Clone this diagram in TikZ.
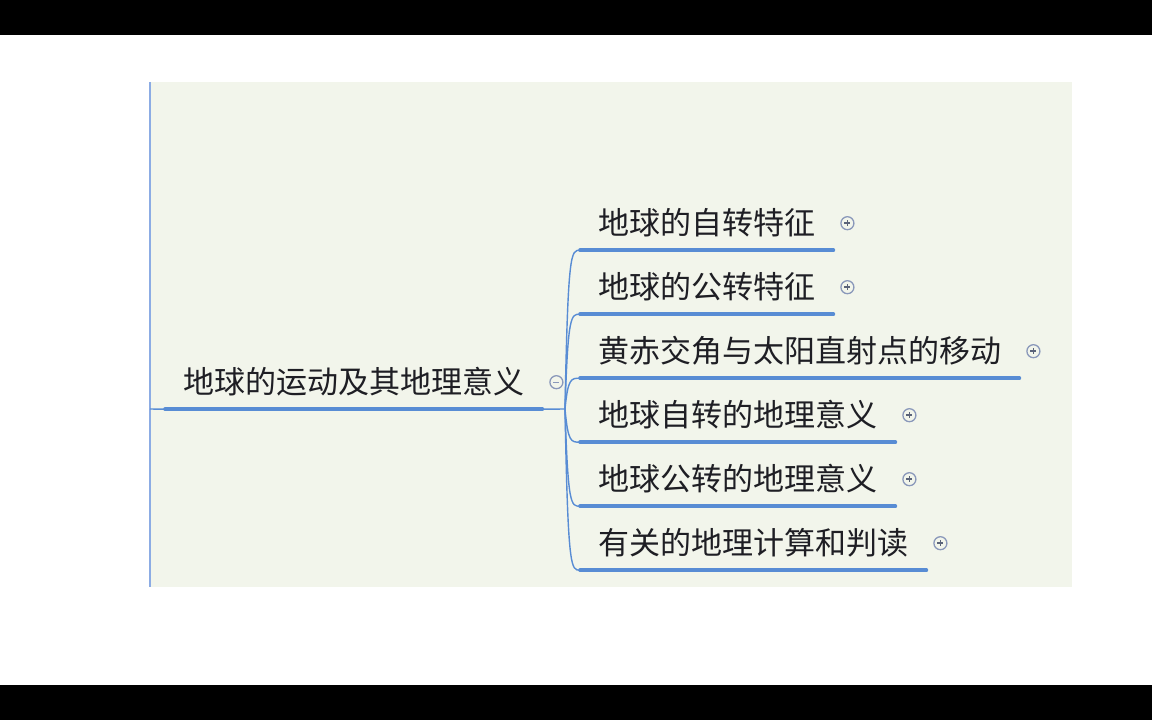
\documentclass[tikz,border=0pt]{standalone}
\usepackage{fontspec}
\newfontfamily\cjk{Noto Sans CJK SC}
\usetikzlibrary{calc}
\definecolor{panel}{RGB}{242,245,235}
\definecolor{branch}{RGB}{88,140,212}
\definecolor{spine}{RGB}{140,172,228}
\definecolor{knob}{RGB}{138,152,186}
\definecolor{ink}{RGB}{30,30,36}

\begin{document}
\begin{tikzpicture}[x=1pt,y=-1pt,
	topic/.style={anchor=base west, inner xsep=18pt, inner ysep=0pt, text depth=16pt, text=ink, font=\cjk\fontsize{31}{36}\selectfont},
	underline/.style={branch, line width=3.6pt, line cap=round},
	link/.style={branch, line width=1.4pt},
	fold/.style={circle, draw=knob, line width=1.3pt, minimum size=13pt, inner sep=0pt}]
	\useasboundingbox (0,0) rectangle (1152,720);
	\fill[white] (0,0) rectangle (1152,720);
	\fill[black] (0,0) rectangle (1152,35);
	\fill[black] (0,685) rectangle (1152,720);
	\fill[panel] (150,82) rectangle (1072,587);
	\draw[spine, line width=2pt] (150,82) -- (150,587);

	\node[topic] (root) at (165,393) {地球的运动及其地理意义};
	\node[topic] (b1) at (580,234) {地球的自转特征};
	\node[topic] (b2) at (580,298) {地球的公转特征};
	\node[topic] (b3) at (580,362) {黄赤交角与太阳直射点的移动};
	\node[topic] (b4) at (580,426) {地球自转的地理意义};
	\node[topic] (b5) at (580,490) {地球公转的地理意义};
	\node[topic] (b6) at (580,554) {有关的地理计算和判读};

	\coordinate (stem) at (150,409);
	\coordinate (hub) at (565,409);
	\draw[link] (stem) -- (root.south west);
	\draw[link] (root.south east) -- (hub);
	\foreach \b in {root,b1,b2,b3,b4,b5,b6}
		\draw[underline] (\b.south west) -- (\b.south east);
	\foreach \b in {b1,b2,b3,b4,b5,b6}
		\draw[link] (hub) .. controls ($(hub|-\b.south west)+(3,0)$) and ($(hub|-\b.south west)+(6,0)$) .. (\b.south west);

	\node[fold] (rootf) at ($(root.south east)+(14,-27)$) {};
	\draw[knob, line width=1.2pt] ($(rootf.center)+(-3,0)$) -- ($(rootf.center)+(3,0)$);
	\foreach \b in {b1,b2,b3,b4,b5,b6} {
		\node[fold] (\b f) at ($(\b.south east)+(14,-27)$) {};
		\draw[knob!65!black, line width=1.5pt] ($(\b f.center)+(-3,0)$) -- ($(\b f.center)+(3,0)$);
		\draw[knob!65!black, line width=1.5pt] ($(\b f.center)+(0,-3)$) -- ($(\b f.center)+(0,3)$);
	}
\end{tikzpicture}
\end{document}
